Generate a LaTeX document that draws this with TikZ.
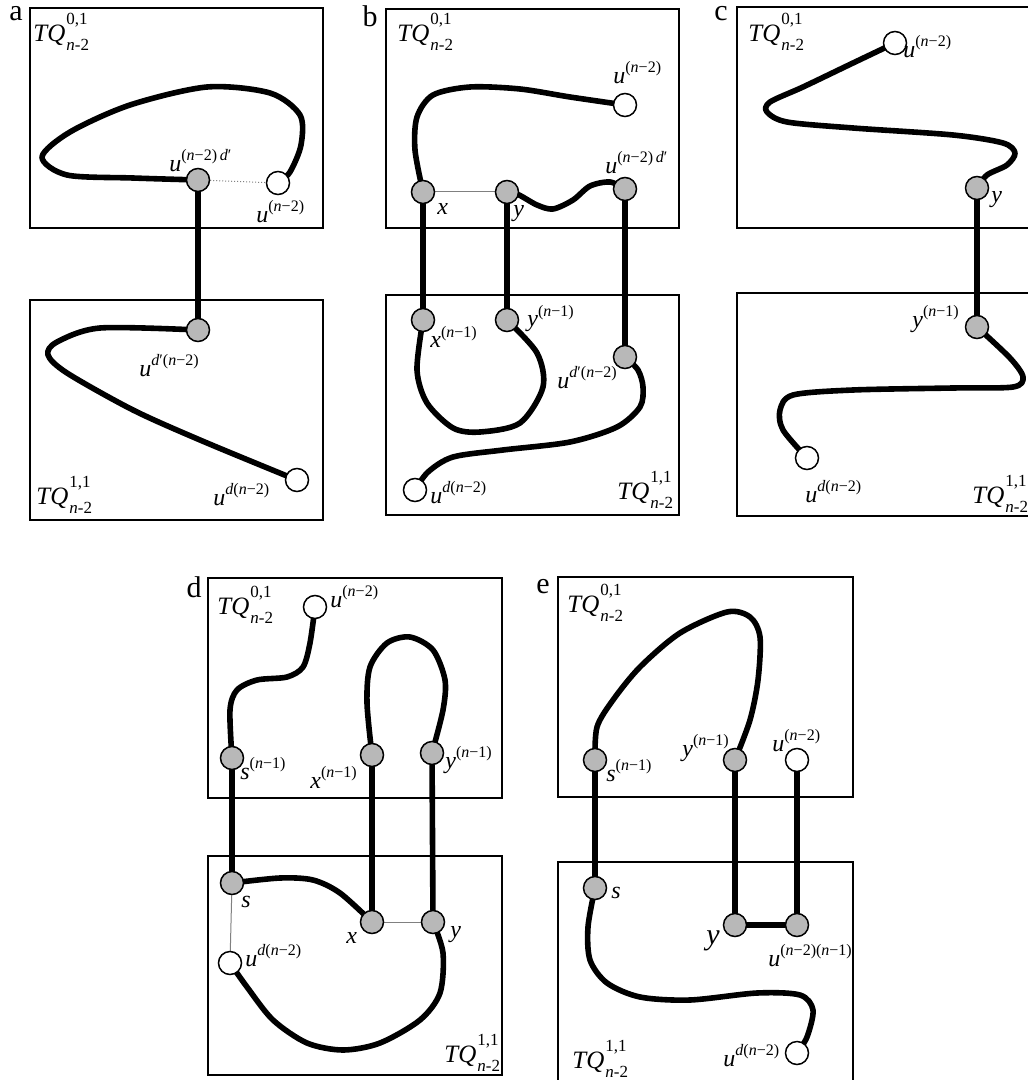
\documentclass[tikz,border=0pt]{standalone}
\usepackage{fontspec}
\setmainfont{Liberation Serif}
\usetikzlibrary{backgrounds}
\definecolor{nodegray}{gray}{0.72}
\newcommand{\usup}[2]{\textit{#1}\raisebox{5.5pt}{\fontsize{8}{10}\selectfont #2}}
\newcommand{\tqlab}[1]{\textit{TQ}\hspace{0.5pt}\rlap{\raisebox{8.5pt}{\fontsize{8.5}{10}\selectfont #1}}\raisebox{-4.5pt}{\fontsize{8.5}{10}\selectfont\textit{n}-2}}
\tikzset{
  gnode/.style={circle, draw=black, line width=0.75pt, fill=nodegray, minimum size=11.5pt, inner sep=0pt},
  wnode/.style={gnode, fill=white},
  pathline/.style={line width=2.8pt, line cap=round, line join=round},
  boxline/.style={line width=0.9pt},
  thinline/.style={line width=0.5pt, draw=gray},
  lbl/.style={anchor=base west, inner sep=0pt, font=\fontsize{12}{14}\selectfont},
  biglbl/.style={anchor=base west, inner sep=0pt, font=\fontsize{15}{17}\selectfont},
  tqlbl/.style={anchor=base west, inner sep=0pt, font=\fontsize{12.5}{14}\selectfont},
  panel/.style={anchor=base, inner sep=0pt, font=\fontsize{15}{17}\selectfont},
}
\begin{document}
\begin{tikzpicture}[x=0.5pt,y=-0.5pt]
\useasboundingbox (0,0) rectangle (1027,1080);
\clip (0,0) rectangle (1027,1080);
% ---------------- panel a ----------------
\node[gnode] (a1) at (198,180) {};
\node[wnode] (a2) at (278,183) {};
\node[gnode] (a3) at (198,330) {};
\node[wnode] (a4) at (297,480) {};
\node[panel] (la) at (16,21) {a};
\node[tqlbl] (atq0) at (33,42) {\tqlab{0,1}};
\node[tqlbl] (atq1) at (36,504) {\tqlab{1,1}};
\node[lbl] (al1) at (169,172) {\usup{u}{(\textit{n}−2)\,\textit{d}′}};
\node[lbl] (al2) at (256,223) {\usup{u}{(\textit{n}−2)}};
\node[lbl] (al3) at (139,376) {\usup{u}{\textit{d}′(\textit{n}−2)}};
\node[lbl] (al4) at (213,505) {\usup{u}{\textit{d}(\textit{n}−2)}};
% ---------------- panel b ----------------
\node[gnode] (bx) at (423,192) {};
\node[gnode] (by) at (507,192) {};
\node[gnode] (bud) at (625,189) {};
\node[wnode] (bu) at (625,105) {};
\node[gnode] (bx1) at (423,320) {};
\node[gnode] (by1) at (507,320) {};
\node[gnode] (bud1) at (625,357) {};
\node[wnode] (bw) at (415,490) {};
\node[panel] (lb) at (370,27) {b};
\node[tqlbl] (btq0) at (397,42) {\tqlab{0,1}};
\node[tqlbl] (btq1) at (617,499) {\tqlab{1,1}};
\node[lbl] (bl1) at (613,84) {\usup{u}{(\textit{n}−2)}};
\node[lbl] (bl2) at (605,174) {\usup{u}{(\textit{n}−2)\,\textit{d}′}};
\node[lbl] (bl3) at (437,215) {\textit{x}};
\node[lbl] (bl4) at (513,217) {\textit{y}};
\node[lbl] (bl5) at (430,348) {\usup{x}{(\textit{n}−1)}};
\node[lbl] (bl6) at (527,327) {\usup{y}{(\textit{n}−1)}};
\node[lbl] (bl7) at (557,388) {\usup{u}{\textit{d}′(\textit{n}−2)}};
\node[lbl] (bl8) at (430,503) {\usup{u}{\textit{d}(\textit{n}−2)}};
% ---------------- panel c ----------------
\node[wnode] (cu) at (895,43) {};
\node[gnode] (cy) at (977,188) {};
\node[gnode] (cy1) at (977,327) {};
\node[wnode] (cw) at (807,458) {};
\node[panel] (lc) at (721,21) {c};
\node[tqlbl] (ctq0) at (748,42) {\tqlab{0,1}};
\node[tqlbl] (ctq1) at (972,503) {\tqlab{1,1}};
\node[lbl] (cl1) at (903,58) {\usup{u}{(\textit{n}−2)}};
\node[lbl] (cl2) at (991,203) {\textit{y}};
\node[lbl] (cl3) at (912,328) {\usup{y}{(\textit{n}−1)}};
\node[lbl] (cl4) at (805,502) {\usup{u}{\textit{d}(\textit{n}−2)}};
% ---------------- panel d ----------------
\node[wnode] (du) at (315,607) {};
\node[gnode] (ds1) at (232,758) {};
\node[gnode] (dx1) at (372,755) {};
\node[gnode] (dy1) at (432,753) {};
\node[gnode] (ds) at (232,883) {};
\node[gnode] (dx) at (372,922) {};
\node[gnode] (dy) at (433,922) {};
\node[wnode] (dw) at (230,963) {};
\node[panel] (ld) at (194,597) {d};
\node[tqlbl] (dtq0) at (217,614) {\tqlab{0,1}};
\node[tqlbl] (dtq1) at (444,1062) {\tqlab{1,1}};
\node[lbl] (dl1) at (330,607) {\usup{u}{(\textit{n}−2)}};
\node[lbl] (dl2) at (240,779) {\usup{s}{(\textit{n}−1)}};
\node[lbl] (dl3) at (310,788) {\usup{x}{(\textit{n}−1)}};
\node[lbl] (dl4) at (445,768) {\usup{y}{(\textit{n}−1)}};
\node[lbl] (dl5) at (241,907) {\textit{s}};
\node[lbl] (dl6) at (346,943) {\textit{x}};
\node[lbl] (dl7) at (450,937) {\textit{y}};
\node[lbl] (dl8) at (245,966) {\usup{u}{\textit{d}(\textit{n}−2)}};
% ---------------- panel e ----------------
\node[gnode] (es1) at (595,760) {};
\node[gnode] (ey1) at (735,760) {};
\node[wnode] (eu) at (797,760) {};
\node[gnode] (es) at (595,888) {};
\node[gnode] (ey) at (735,925) {};
\node[gnode] (euu) at (797,925) {};
\node[wnode] (ew) at (797,1053) {};
\node[panel] (le) at (543,593) {e};
\node[tqlbl] (etq0) at (567,612) {\tqlab{0,1}};
\node[tqlbl] (etq1) at (572,1068) {\tqlab{1,1}};
\node[lbl] (el1) at (606,781) {\usup{s}{(\textit{n}−1)}};
\node[lbl] (el2) at (682,756) {\usup{y}{(\textit{n}−1)}};
\node[lbl] (el3) at (772,751) {\usup{u}{(\textit{n}−2)}};
\node[lbl] (el4) at (611,898) {\textit{s}};
\node[biglbl] (el5) at (706,944) {\textit{y}};
\node[lbl] (el6) at (768,966) {\usup{u}{(\textit{n}−2)(\textit{n}−1)}};
\node[lbl] (el7) at (723,1066) {\usup{u}{\textit{d}(\textit{n}−2)}};

\begin{pgfonlayer}{background}
% boxes
\draw[boxline] (30,8) rectangle (323,228);
\draw[boxline] (30,300) rectangle (323,520);
\draw[boxline] (386,9) rectangle (679,228);
\draw[boxline] (386,295) rectangle (679,515);
\draw[boxline] (737,7) rectangle (1040,228);
\draw[boxline] (737,293) rectangle (1040,516);
\draw[boxline] (208,578) rectangle (502,798);
\draw[boxline] (208,856) rectangle (502,1075);
\draw[boxline] (558,577) rectangle (853,797);
\draw[boxline] (558,862) rectangle (853,1095);
% thin edges
\draw[thinline, densely dotted] (a1) -- (a2);
\draw[thinline] (bx) -- (by);
\draw[thinline] (ds) -- (dw);
\draw[thinline] (dx) -- (dy);
% panel a paths
\draw[pathline] plot[smooth] coordinates {(a1.center) (133,178) (67,175) (42,157) (70,132) (130,105) (207,87) (270,93) (300,115) (301,145) (290,172) (a2.center)};
\draw[pathline] (a1) -- (a3);
\draw[pathline] plot[smooth] coordinates {(a3.center) (100,328) (57,342) (48,355) (67,373) (133,410) (200,440) (287,476) (a4.center)};
% panel b paths
\draw[pathline] plot[smooth] coordinates {(bx.center) (415,150) (417,117) (433,95) (470,87) (520,89) (570,97) (bu.center)};
\draw[pathline] plot[smooth] coordinates {(by.center) (519,195) (537,205) (553,209) (573,200) (590,186) (610,182) (bud.center)};
\draw[pathline] (bx) -- (bx1);
\draw[pathline] (by) -- (by1);
\draw[pathline] (bud) -- (bud1);
\draw[pathline] plot[smooth] coordinates {(bx1.center) (417,370) (427,403) (453,428) (480,432) (520,423) (543,387) (537,353) (by1.center)};
\draw[pathline] plot[smooth] coordinates {(bud1.center) (638,370) (643,387) (640,407) (617,427) (570,442) (503,450) (453,457) (428,472) (bw.center)};
% panel c paths
\draw[pathline] plot[smooth] coordinates {(cu.center) (853,63) (803,87) (770,102) (767,112) (787,122) (853,128) (953,135) (1003,143) (1015,153) (1007,165) (987,175) (cy.center)};
\draw[pathline] (cy) -- (cy1);
\draw[pathline] plot[smooth] coordinates {(cy1.center) (1010,358) (1023,377) (1013,387) (953,388) (853,390) (793,395) (780,410) (783,430) (cw.center)};
% panel d paths
\draw[pathline] plot[smooth] coordinates {(du.center) (310,643) (303,667) (287,677) (257,680) (237,690) (230,710) (ds1.center)};
\draw[pathline] plot[smooth] coordinates {(dx1.center) (367,703) (370,667) (387,643) (410,637) (433,650) (445,680) (443,710) (dy1.center)};
\draw[pathline] (ds1) -- (ds);
\draw[pathline] (dx1) -- (dx);
\draw[pathline] (dy1) -- (dy);
\draw[pathline] plot[smooth] coordinates {(ds.center) (280,878) (313,880) (340,893) (dx.center)};
\draw[pathline] plot[smooth] coordinates {(dy.center) (443,953) (440,993) (420,1020) (380,1043) (343,1050) (307,1043) (273,1020) (247,987) (dw.center)};
% panel e paths
\draw[pathline] plot[smooth] coordinates {(es1.center) (597,727) (613,700) (640,667) (680,633) (727,612) (750,617) (760,637) (758,680) (750,720) (ey1.center)};
\draw[pathline] (es1) -- (es);
\draw[pathline] (ey1) -- (ey);
\draw[pathline] (eu) -- (euu);
\draw[pathline] (ey) -- (euu);
\draw[pathline] plot[smooth] coordinates {(es.center) (588,927) (590,960) (607,983) (640,997) (690,1000) (757,993) (800,995) (813,1010) (807,1037) (ew.center)};
\end{pgfonlayer}
\end{tikzpicture}
\end{document}
